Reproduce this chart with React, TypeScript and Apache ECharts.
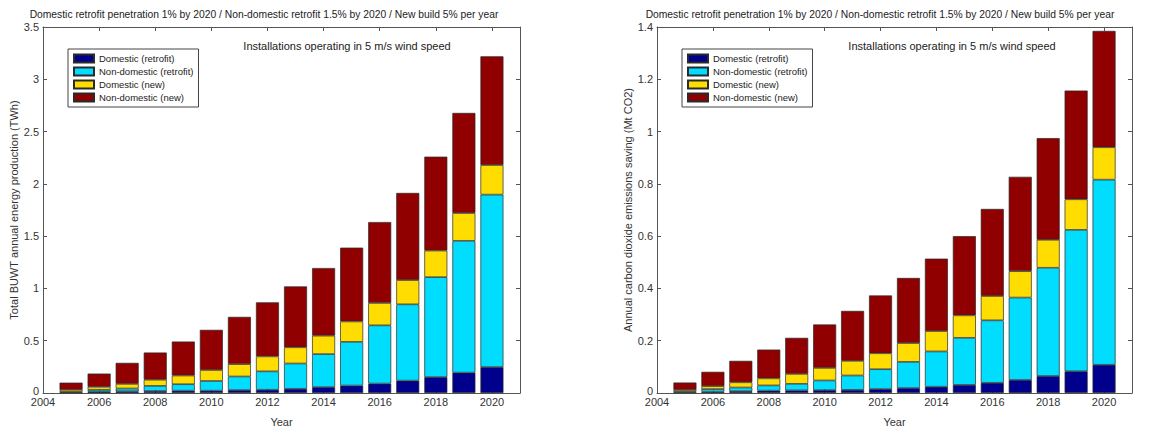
import React, { useEffect, useRef } from "react";
import * as echarts from "echarts";

const axisYears = ["2004", "2005", "2006", "2007", "2008", "2009", "2010", "2011", "2012", "2013", "2014", "2015", "2016", "2017", "2018", "2019", "2020", "2021"];
const years = [2005, 2006, 2007, 2008, 2009, 2010, 2011, 2012, 2013, 2014, 2015, 2016, 2017, 2018, 2019, 2020];
const seriesNames = ["Domestic (retrofit)", "Non-domestic (retrofit)", "Domestic (new)", "Non-domestic (new)"];
const seriesColors = ["#00008C", "#00DDFF", "#FFDD00", "#900000"];

// Left chart: Total BUWT annual energy production (TWh)
const energyDomRetrofit = [0.004, 0.012, 0.016, 0.019, 0.022, 0.022, 0.028, 0.031, 0.04, 0.056, 0.071, 0.09, 0.118, 0.152, 0.195, 0.248];
const energyNonDomRetrofit = [0.008, 0.019, 0.027, 0.049, 0.062, 0.093, 0.13, 0.176, 0.242, 0.316, 0.418, 0.557, 0.73, 0.956, 1.26, 1.649];
const energyDomNew = [0.019, 0.028, 0.044, 0.059, 0.083, 0.105, 0.118, 0.143, 0.155, 0.176, 0.195, 0.214, 0.232, 0.254, 0.266, 0.283];
const energyNonDomNew = [0.068, 0.127, 0.201, 0.26, 0.325, 0.384, 0.452, 0.517, 0.582, 0.647, 0.706, 0.774, 0.833, 0.898, 0.957, 1.04];

// Right chart: Annual carbon dioxide emissions saving (Mt CO2)
const co2DomRetrofit = [0.002, 0.005, 0.007, 0.009, 0.01, 0.011, 0.012, 0.015, 0.019, 0.024, 0.031, 0.039, 0.05, 0.065, 0.083, 0.108];
const co2NonDomRetrofit = [0.004, 0.01, 0.014, 0.02, 0.025, 0.037, 0.055, 0.076, 0.1, 0.135, 0.18, 0.239, 0.315, 0.414, 0.541, 0.708];
const co2DomNew = [0.006, 0.011, 0.02, 0.027, 0.038, 0.048, 0.056, 0.061, 0.072, 0.078, 0.086, 0.093, 0.101, 0.107, 0.117, 0.124];
const co2NonDomNew = [0.028, 0.055, 0.082, 0.11, 0.138, 0.166, 0.191, 0.221, 0.249, 0.277, 0.303, 0.333, 0.361, 0.389, 0.416, 0.445];

const titleText = "Domestic retrofit penetration 1% by 2020 / Non-domestic retrofit 1.5% by 2020 / New build 5% per year";
const noteText = "Installations operating in 5 m/s wind speed";
const leftYName = "Total BUWT annual energy production (TWh)";
const rightYName = "Annual carbon dioxide emissions saving (Mt CO2)";
const xName = "Year";

const FONT = "Liberation Sans, Arial, sans-serif";
const AXIS_COLOR = "#555";
const TEXT_COLOR = "#333";
const FS = 11;

export default function App() {
  const ref = useRef<HTMLDivElement>(null);
  useEffect(() => {
    if (!ref.current) return;
    const chart = echarts.init(ref.current, undefined, { renderer: "svg" });

    const grids = [
      { left: 43, top: 27, width: 477, height: 375 },
      { left: 657, top: 27, width: 475, height: 375 },
    ];

    const isEven = (_i: number, v: string) => Number(v) % 2 === 0 && v !== "2021";

    const xBase = (gridIndex: number, position: string, labels: boolean) => ({
      type: "category",
      gridIndex,
      position,
      data: axisYears,
      boundaryGap: false,
      splitLine: { show: false },
      axisLine: { show: true, onZero: false, lineStyle: { color: AXIS_COLOR, width: 1 } },
      axisTick: { show: true, inside: true, length: 4, interval: isEven, lineStyle: { color: AXIS_COLOR } },
      axisLabel: {
        show: labels,
        interval: isEven,
        color: TEXT_COLOR,
        fontSize: FS,
        fontFamily: FONT,
        margin: 3,
      },
      name: labels ? xName : "",
      nameLocation: "middle",
      nameGap: 23,
      nameTextStyle: { color: TEXT_COLOR, fontSize: FS, fontFamily: FONT },
    });

    const yBase = (gridIndex: number, position: string, labels: boolean, max: number, interval: number, name: string) => ({
      type: "value",
      gridIndex,
      position,
      min: 0,
      max,
      interval,
      splitLine: { show: false },
      axisLine: { show: true, onZero: false, lineStyle: { color: AXIS_COLOR, width: 1 } },
      axisTick: { show: true, inside: true, length: 4, lineStyle: { color: AXIS_COLOR } },
      axisLabel: {
        show: labels,
        color: TEXT_COLOR,
        fontSize: FS,
        fontFamily: FONT,
        margin: 4,
        formatter: (v: number) => (v === 0 ? "{z|0}" : String(Math.round(v * 10) / 10)),
        rich: { z: { fontSize: FS, fontFamily: FONT, color: TEXT_COLOR, padding: [0, 0, 4, 0] } },
      },
      name: labels ? name : "",
      nameLocation: "middle",
      nameRotate: 90,
      nameGap: 21,
      nameTextStyle: { color: TEXT_COLOR, fontSize: FS, fontFamily: FONT },
    });

    const leftData = [energyDomRetrofit, energyNonDomRetrofit, energyDomNew, energyNonDomNew];
    const rightData = [co2DomRetrofit, co2NonDomRetrofit, co2DomNew, co2NonDomNew];

    const mkSeries = (data: number[][], axisIdx: number, stack: string) =>
      data.map((arr, k) => ({
        type: "bar",
        name: seriesNames[k],
        stack,
        xAxisIndex: axisIdx,
        yAxisIndex: axisIdx,
        barWidth: 23,
        data: axisYears.map((y) => {
          const i = years.indexOf(Number(y));
          return i >= 0 ? arr[i] : "-";
        }),
        itemStyle: { color: seriesColors[k], borderColor: "#2a2a2a", borderWidth: 0.7 },
        emphasis: { disabled: true },
      }));

    const legendBase = (left: number) => ({
      left,
      top: 49,
      orient: "vertical",
      data: seriesNames,
      icon: "rect",
      itemWidth: 20,
      itemHeight: 8,
      itemGap: 0,
      selectedMode: false,
      backgroundColor: "#fff",
      borderColor: "#444",
      borderWidth: 1,
      borderRadius: 0,
      padding: [3, 5, 3, 5],
      textStyle: { color: "#222", fontSize: 9.5, lineHeight: 13, fontFamily: FONT },
    });

    const textEl = (x: number, y: number, text: string, size: number) => ({
      type: "text",
      x,
      y,
      style: { text, fill: "#222", font: `${size}px ${FONT}`, align: "center", verticalAlign: "middle" },
    });

    chart.setOption({
      animation: false,
      backgroundColor: "#fff",
      grid: grids,
      xAxis: [xBase(0, "bottom", true), xBase(1, "bottom", true), xBase(0, "top", false), xBase(1, "top", false)],
      yAxis: [
        yBase(0, "left", true, 3.5, 0.5, leftYName),
        yBase(1, "left", true, 1.4, 0.2, rightYName),
        yBase(0, "right", false, 3.5, 0.5, ""),
        yBase(1, "right", false, 1.4, 0.2, ""),
      ],
      legend: [legendBase(68), legendBase(682)],
      series: [...mkSeries(leftData, 0, "L"), ...mkSeries(rightData, 1, "R")],
      graphic: [
        textEl(264, 14, titleText, 10.3),
        textEl(880, 14, titleText, 10.3),
        textEl(347, 46, noteText, FS),
        textEl(952, 46, noteText, FS),
      ],
    });
    return () => chart.dispose();
  }, []);

  return (
    <div
      ref={ref}
      style={{ position: "absolute", left: 0, top: 0, width: 1154, height: 432, background: "#fff" }}
    />
  );
}
